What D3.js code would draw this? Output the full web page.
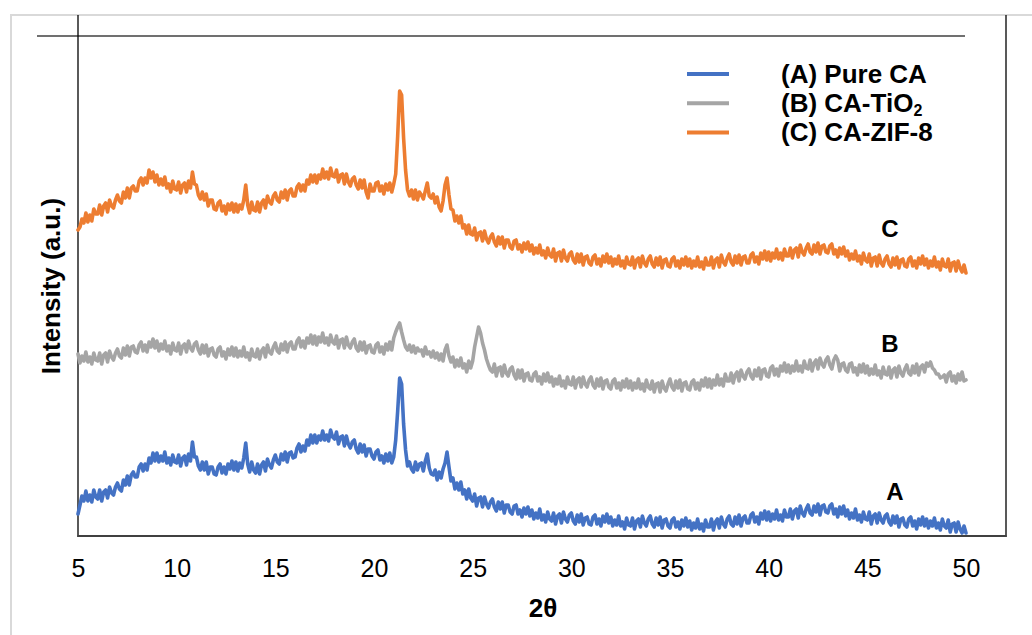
<!DOCTYPE html>
<html><head><meta charset="utf-8">
<script src="https://cdn.jsdelivr.net/npm/d3@7"></script>
<style>body{margin:0;background:#fff}svg{display:block;font-family:"Liberation Sans",Arial,sans-serif}</style>
</head><body><svg id="c" width="1032" height="635"></svg>
<script>
// ---- data (intensity in arbitrary units, one row per degree 2θ, 0.1° step) ----
const xTicks = [5,10,15,20,25,30,35,40,45,50];
const twoThetaStart = 5;
const twoThetaEnd = 50;
const seriesLabels = ["(A) Pure CA", "(B) CA-TiO", "(C) CA-ZIF-8"];
const seriesTags = ["A", "B", "C"];
const seriesColors = ["#4472C4", "#A5A5A5", "#ED7D31"];

const pureCA = [
[22,31,40,35,45,35,41,34,46,39],
[37,46,35,44,46,38,49,43,41,49],
[53,47,45,56,51,60,51,61,64,59],
[59,69,72,65,72,66,78,73,83,75],
[83,74,80,75,84,73,78,71,81,74],
[73,81,70,78,80,71,82,75,94,79],
[79,70,66,74,66,74,62,69,69,62],
[61,69,72,63,69,62,72,67,75,66],
[74,65,73,68,78,93,72,64,74,66],
[63,72,62,71,74,65,77,71,68,76],
[81,74,72,82,76,84,74,83,84,78],
[79,88,92,84,90,85,96,91,101,93],
[101,93,100,96,105,96,101,95,106,99],
[97,104,92,99,100,90,100,92,88,94],
[96,87,83,92,84,91,80,87,87,80],
[77,84,86,76,80,73,82,75,83,73],
[79,96,125,158,152,112,86,70,74,67],
[64,74,66,72,73,65,75,82,68,62],
[61,66,56,64,58,67,73,84,69,55],
[58,47,53,46,54,42,46,37,47,38],
[35,42,30,38,39,29,39,32,28,34],
[37,29,25,34,27,34,23,31,31,24],
[22,30,31,22,26,19,28,22,29,20],
[26,17,23,18,27,16,21,14,24,17],
[15,23,12,20,22,13,24,17,14,21],
[23,15,12,21,14,22,11,18,19,12],
[11,19,21,12,17,10,20,14,22,13],
[19,10,16,11,20,10,14,7,18,11],
[10,18,7,15,17,9,20,13,10,17],
[20,12,9,18,11,19,8,16,17,10],
[8,16,18,9,14,7,16,10,18,9],
[15,6,13,8,17,7,12,5,16,9],
[9,17,6,14,17,8,19,12,9,17],
[20,12,10,19,12,21,10,18,20,13],
[13,21,23,14,19,12,23,17,25,16],
[24,15,22,17,26,16,21,15,26,19],
[19,27,17,25,27,18,30,23,20,27],
[31,23,21,30,24,32,21,30,31,24],
[23,30,32,22,27,19,29,22,30,20],
[26,17,23,18,27,16,21,14,24,17],
[16,24,12,20,22,13,23,16,13,20],
[22,14,11,20,13,20,9,17,18,11],
[9,17,19,10,15,7,17,11,19,10],
[17,8,15,10,18,8,13,6,17,10],
[8,16,4,12,13,4,14,7,3,10]
];
const pureCAEnd = 3;

const caTiO2 = [
[182,173,180,175,184,174,179,172,183,176],
[175,183,172,181,183,174,185,179,176,183],
[187,180,178,188,181,190,180,189,190,184],
[183,191,194,185,191,184,194,189,197,188],
[195,185,192,187,195,185,190,182,193,186],
[185,193,182,190,192,184,195,188,185,192],
[194,186,182,191,183,191,180,187,188,181],
[179,187,189,180,184,177,187,181,189,180],
[188,179,185,180,189,179,183,176,187,180],
[179,187,177,185,188,179,191,184,182,189],
[193,185,183,192,186,194,184,192,194,187],
[187,195,198,189,195,188,198,193,201,192],
[200,191,199,194,203,193,198,191,201,194],
[192,200,188,196,197,188,199,191,188,194],
[197,188,185,194,186,194,183,190,191,184],
[183,191,193,184,189,182,192,186,194,186],
[198,204,209,213,204,196,189,186,191,184],
[190,183,188,185,186,180,189,182,184,179],
[185,178,183,176,182,175,186,191,180,174],
[179,169,176,170,178,168,172,164,175,168],
[175,189,199,209,203,193,186,177,171,166],
[164,172,160,168,169,160,171,163,160,167],
[169,161,157,166,158,166,155,162,163,156],
[155,162,164,155,159,152,162,155,163,154],
[159,150,157,152,160,150,155,148,159,152],
[151,159,148,156,158,149,159,152,149,156],
[159,151,148,157,150,158,147,155,156,149],
[147,155,157,148,153,146,155,149,157,148],
[155,146,153,148,157,147,152,145,156,149],
[147,155,144,152,153,144,155,148,145,152],
[157,149,146,155,148,156,145,153,154,147],
[146,154,156,147,153,146,156,150,158,149],
[157,148,156,151,161,151,157,150,162,155],
[155,163,153,161,164,155,166,160,157,164],
[167,160,157,166,160,168,157,166,167,160],
[159,168,170,161,167,160,170,165,173,164],
[171,163,170,165,175,165,170,164,175,168],
[167,176,165,173,176,167,178,172,169,176],
[179,171,167,176,180,176,165,172,173,166],
[164,172,173,164,168,161,171,164,172,163],
[170,161,167,162,171,161,165,158,169,162],
[161,169,158,166,168,159,170,163,160,167],
[171,163,161,170,163,172,161,169,171,164],
[173,170,174,168,166,162,162,158,159,161],
[154,162,164,155,160,153,162,156,164,155]
];
const caTiO2End = 156;

const caZIF8 = [
[306,309,317,313,323,314,321,315,327,322],
[322,331,321,330,333,324,336,330,328,336],
[341,335,333,344,338,348,338,348,350,345],
[345,355,358,351,358,353,366,358,364,354],
[361,351,357,351,359,348,352,344,355,347],
[346,354,343,351,353,344,355,348,364,352],
[351,341,337,344,336,342,330,336,336,327],
[326,333,335,325,330,322,332,326,333,324],
[332,324,331,327,336,351,331,323,334,326],
[325,334,324,333,336,328,340,334,332,340],
[343,336,334,344,338,346,336,345,347,340],
[340,349,352,345,351,345,356,352,361,354],
[361,353,361,357,367,358,364,357,368,360],
[359,366,354,361,362,352,362,354,350,357],
[359,351,347,356,348,356,344,338,352,345],
[345,353,354,345,350,342,352,346,353,344],
[352,362,400,445,441,398,366,346,340,346],
[337,346,336,344,341,337,345,353,340,338],
[342,333,339,329,325,335,351,358,341,327],
[326,315,320,313,320,308,311,302,311,302],
[301,308,296,303,304,295,305,297,293,299],
[302,294,290,299,292,299,288,296,296,289],
[287,295,296,287,291,284,293,287,294,285],
[291,282,288,283,291,281,285,278,288,281],
[279,287,275,283,284,275,286,278,275,282],
[284,276,273,282,274,282,271,279,280,273],
[271,279,281,272,277,270,280,274,282,273],
[279,270,277,272,280,270,275,268,279,272],
[271,279,268,276,278,269,280,273,270,277],
[280,272,269,278,271,279,268,276,277,270],
[269,277,279,270,275,268,277,271,279,270],
[277,268,275,270,279,269,274,267,278,271],
[271,279,268,276,278,269,281,274,271,278],
[282,274,271,280,273,281,271,279,280,273],
[273,281,283,274,279,272,283,277,285,276],
[284,275,283,278,287,277,283,276,287,280],
[280,288,278,286,288,279,291,284,281,288],
[292,284,282,291,284,293,282,290,291,284],
[283,290,292,282,286,279,288,282,289,280],
[285,276,282,277,285,275,280,272,283,276],
[274,282,270,278,279,270,281,273,270,277],
[280,272,269,278,271,279,268,276,277,270],
[269,277,279,270,275,268,278,272,280,271],
[277,268,275,270,279,269,274,266,277,270],
[269,277,265,273,274,265,275,268,264,271]
];
const caZIF8End = 263;

// ---- build points from rows ----
function toPoints(rows, endValue) {
  const pts = [];
  rows.forEach((row, r) => {
    row.forEach((v, j) => pts.push([twoThetaStart + r + j / row.length, v]));
  });
  pts.push([twoThetaEnd, endValue]);
  return pts;
}
const series = [toPoints(pureCA, pureCAEnd), toPoints(caTiO2, caTiO2End), toPoints(caZIF8, caZIF8End)];

const svg = d3.select("#c");
const x = d3.scaleLinear().domain([5, 50]).range([78, 966]);
const y = d3.scaleLinear().domain([0, 500]).range([536, 36]);

// outer chart border
svg.append("rect").attr("x", 11).attr("y", 15).attr("width", 1040).attr("height", 640)
  .attr("fill", "none").attr("stroke", "#d9d9d9").attr("stroke-width", 2);

// frame lines
svg.append("line").attr("x1", 37).attr("x2", 965).attr("y1", 36).attr("y2", 36)
  .attr("stroke", "#404040").attr("stroke-width", 1.3);
svg.append("line").attr("x1", 78).attr("x2", 78).attr("y1", 15).attr("y2", 537)
  .attr("stroke", "#000").attr("stroke-width", 1.3);
svg.append("line").attr("x1", 1006).attr("x2", 1006).attr("y1", 15).attr("y2", 537)
  .attr("stroke", "#222").attr("stroke-width", 1.5);
svg.append("line").attr("x1", 77.5).attr("x2", 1006.5).attr("y1", 536).attr("y2", 536)
  .attr("stroke", "#404040").attr("stroke-width", 2);

// x axis labels
const xa = svg.append("g").attr("transform", "translate(0,536)")
  .call(d3.axisBottom(x).tickValues(xTicks).tickSize(0).tickPadding(0).tickFormat(d3.format("d")));
xa.select(".domain").remove();
xa.selectAll("text").attr("y", 41).attr("dy", 0).attr("fill", "#000")
  .style("font-size", "25px").style("font-family", '"Liberation Sans", Arial, sans-serif');

// curves
const line = d3.line().x(d => x(d[0])).y(d => y(d[1]));
series.forEach((pts, i) => {
  svg.append("path").datum(pts).attr("d", line).attr("fill", "none")
    .attr("stroke", seriesColors[i]).attr("stroke-width", 3.6)
    .attr("stroke-linejoin", "round").attr("stroke-linecap", "round");
});

// axis titles
svg.append("text").attr("transform", "translate(60,286) rotate(-90)")
  .attr("text-anchor", "middle").attr("font-weight", "bold").attr("font-size", 26)
  .text("Intensity (a.u.)");
svg.append("text").attr("x", 543).attr("y", 617).attr("text-anchor", "middle")
  .attr("font-weight", "bold").attr("font-size", 26).text("2θ");

// legend
seriesLabels.forEach((lab, i) => {
  const ly = 74 + i * 29.3;
  svg.append("line").attr("x1", 687).attr("x2", 729).attr("y1", ly).attr("y2", ly)
    .attr("stroke", seriesColors[i]).attr("stroke-width", 4);
  const t = svg.append("text").attr("x", 781).attr("y", ly + 8.5)
    .attr("font-weight", "bold").attr("font-size", 26).text(lab);
  if (i === 1) t.append("tspan").attr("font-size", 16).attr("dy", 4).text("2");
});

// series tags
const tagX = [895, 890, 890];
const tagY = [500, 352, 237];
seriesTags.forEach((tg, i) => {
  svg.append("text").attr("x", tagX[i]).attr("y", tagY[i]).attr("text-anchor", "middle")
    .attr("font-weight", "bold").attr("font-size", 24).text(tg);
});
</script></body></html>
